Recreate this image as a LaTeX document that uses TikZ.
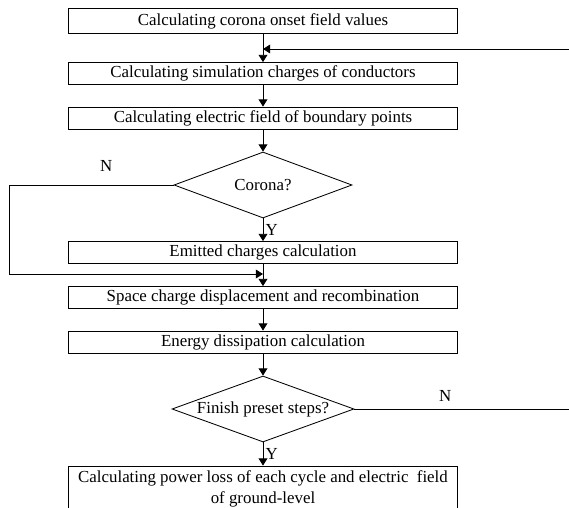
\documentclass[tikz,border=0pt]{standalone}
\usepackage{fontspec}
\setmainfont{Liberation Serif}
\usetikzlibrary{positioning,arrows.meta,shapes.geometric}

\begin{document}
\begin{tikzpicture}[
  proc/.style={draw, line width=0.6pt, minimum width=9.725cm, minimum height=0.55cm,
               inner sep=1pt, align=center, font=\fontsize{12}{15}\selectfont},
  decision/.style={draw, diamond, aspect=2.7, line width=0.6pt, minimum width=4.45cm,
               minimum height=1.65cm, inner sep=0pt, font=\fontsize{12}{15}\selectfont},
  flow/.style={-{Triangle[length=1.8mm,width=2.2mm]}, line width=0.6pt},
  tag/.style={font=\fontsize{12}{15}\selectfont, inner sep=1.5pt},
]
\useasboundingbox (0,0) rectangle (14.225,-12.7);
% process steps
\node[proc, minimum height=0.63cm] (onset) at (6.575,-0.525) {Calculating corona onset field values};
\node[proc] (simq)   at (6.575,-1.8375) {Calculating simulation charges of conductors};
\node[proc] (efield) at (6.575,-2.95)   {Calculating electric field of boundary points};
\node[decision] (corona) at (6.575,-4.625) {Corona?};
\node[proc] (emit)   at (6.575,-6.3125) {Emitted charges calculation};
\node[proc] (space)  at (6.575,-7.4375) {Space charge displacement and recombination};
\node[proc] (energy) at (6.575,-8.55)   {Energy dissipation calculation};
\node[decision, minimum width=4.55cm] (finish) at (6.575,-10.225) {Finish preset steps?};
\node[proc, minimum height=1.15cm] (power) at (6.575,-12.225)
  {Calculating power loss of each cycle and electric \ field\\ of ground-level};

% main flow
\draw[flow] (onset) -- (simq);
\draw[flow] (simq) -- (efield);
\draw[flow] (efield) -- (corona);
\draw[flow] (corona) -- node[tag, right] {Y} (emit);
\draw[flow] (emit) -- (space);
\draw[flow] (space) -- (energy);
\draw[flow] (energy) -- (finish);
\draw[flow] (finish) -- node[tag, right] {Y} (power);

% loops back
\coordinate (lft)   at (0.225,0);
\coordinate (rgt)   at (14.4,0);
\coordinate (skip)  at (6.575,-6.85);
\coordinate (again) at (6.575,-1.225);
\draw[flow] (corona.west) -- node[tag, pos=0.41, above=8pt] {N} (corona.west -| lft)
  -- (lft |- skip) -- (skip);
\draw[flow] (finish.east) -- node[tag, pos=0.41, above=3.5pt] {N} (finish.east -| rgt)
  -- (rgt |- again) -- (again);
\end{tikzpicture}
\end{document}
